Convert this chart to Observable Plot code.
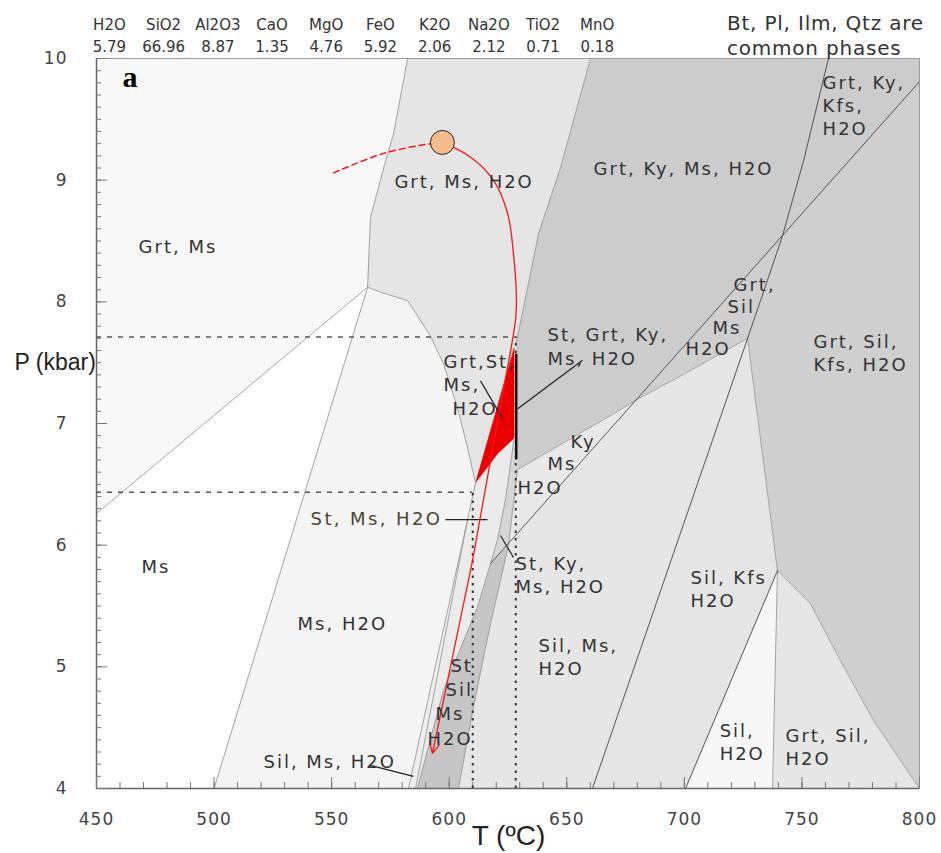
<!DOCTYPE html>
<html><head><meta charset="utf-8">
<script src="https://cdn.jsdelivr.net/npm/d3@7"></script>
<script src="https://cdn.jsdelivr.net/npm/@observablehq/plot@0.6"></script>
<style>
html,body{margin:0;padding:0;background:#fff;}
#chart{width:941px;height:853px;}
</style></head><body><div id="chart"></div>
<script>
// ---- bulk composition (wt%) ----
const oxides = ["H2O","SiO2","Al2O3","CaO","MgO","FeO","K2O","Na2O","TiO2","MnO"];
const oxideValues = ["5.79","66.96","8.87","1.35","4.76","5.92","2.06","2.12","0.71","0.18"];

// ---- axis ticks ----
const xTicks = [450,500,550,600,650,700,750,800];
const yTicks = [4,5,6,7,8,9,10];
const xMinorTicks = d3.range(450, 801, 10);
const yMinorTicks = d3.range(40, 101).map(v => v / 10);

// ---- phase-field polygons [T (°C), P (kbar)] ----
const fields = [
  {name:"Grt, Ms", pts:[[450,10],[582.3,10],[576.3,9.38],[572.1,9.10],[566.5,8.69],[565.3,8.12],[450,6.26]]},
  {name:"Ms", pts:[[450,6.26],[565.3,8.12],[500,4],[450,4]]},
  {name:"Ms, H2O", pts:[[565.3,8.12],[570.8,8.08],[582.3,8.01],[592.0,7.72],[597.6,7.49],[603.5,7.13],[607.8,6.80],[611.2,6.51],[582.7,4.0],[500,4]]},
  {name:"Grt, Ms, H2O", pts:[[582.3,10],[660.1,10],[647.3,9.10],[638.0,8.56],[632.0,7.99],[629.0,7.71],[628.4,7.65],[627.6,7.62],[611.2,6.51],[607.8,6.80],[603.5,7.13],[597.6,7.49],[592.0,7.72],[582.3,8.01],[570.8,8.08],[565.3,8.12],[566.5,8.69],[572.1,9.10],[576.3,9.38]]},
  {name:"Grt, Ky, Ms, H2O", pts:[[660.1,10],[800,10],[800,9.81],[680.1,7.20],[669.9,7.08],[650.3,6.86],[629.0,6.62],[628.4,7.65],[629.0,7.71],[632.0,7.99],[638.0,8.56],[647.3,9.10]]},
  {name:"Grt, Sil, Kfs, H2O", pts:[[680.1,7.20],[800,9.81],[800,4.0],[780.4,4.56],[766.4,5.05],[753.6,5.52],[739.6,5.79],[726.9,7.70],[698.4,7.39]]},
  {name:"Ky, Ms, H2O", pts:[[629.0,6.62],[650.3,6.86],[669.9,7.08],[680.1,7.20],[625.2,6.0],[626.9,6.28]]},
  {name:"Sil, Ms, H2O", pts:[[625.2,6.0],[680.1,7.20],[698.4,7.39],[726.9,7.70],[660.9,4.0],[603.9,4.0],[610.3,4.67],[617.6,5.36],[621.8,5.71]]},
  {name:"Sil, Kfs, H2O", pts:[[726.9,7.70],[739.6,5.79],[700.5,4.0],[660.9,4.0]]},
  {name:"Sil, H2O", pts:[[739.6,5.79],[737.5,4.0],[700.5,4.0]]},
  {name:"Grt, Sil, H2O", pts:[[739.6,5.79],[753.6,5.52],[766.4,5.05],[780.4,4.56],[800,4.0],[737.5,4.0]]},
  {name:"St, Ms, H2O", pts:[[611.2,6.51],[621.0,6.76],[627.6,6.88],[623.9,6.37],[620.5,6.04],[617.6,5.85],[612.0,5.49],[597.6,4.81],[586.5,4.0],[585.7,4.0],[607.7,6.20]]},
  {name:"Sil, Ms, H2O low", pts:[[607.7,6.20],[585.7,4.0],[582.7,4.0]]},
  {name:"St, Ky, Ms, H2O", pts:[[627.6,6.88],[629.0,6.62],[626.9,6.28],[625.2,6.0],[617.6,5.85],[620.5,6.04],[623.9,6.37]]},
  {name:"St, Sil, Ms, H2O", pts:[[617.6,5.85],[625.2,6.0],[621.8,5.71],[617.6,5.36],[610.3,4.67],[603.9,4.0],[586.5,4.0],[597.6,4.81],[612.0,5.49]]},
  {name:"Grt, St, Ms, H2O", pts:[[611.2,6.51],[627.6,7.62],[627.6,6.88],[621.0,6.76]]}
];

// ---- field boundaries ----
const lightBoundaries = [
  [[582.3,10],[576.3,9.38],[572.1,9.10],[566.5,8.69],[565.3,8.12]],
  [[565.3,8.12],[450,6.26]],
  [[565.3,8.12],[500,4]],
  [[565.3,8.12],[570.8,8.08],[582.3,8.01],[592.0,7.72],[597.6,7.49],[603.5,7.13],[607.8,6.80],[611.2,6.51]],
  [[611.2,6.51],[582.7,4.0]],
  [[607.7,6.20],[585.7,4.0]],
  [[627.6,6.88],[623.9,6.37],[620.5,6.04],[617.6,5.85],[612.0,5.49],[597.6,4.81],[586.5,4.0]],
  [[629.0,6.62],[626.9,6.28],[625.2,6.0],[621.8,5.71],[617.6,5.36],[610.3,4.67],[603.9,4.0]],
  [[660.1,10],[647.3,9.10],[638.0,8.56],[632.0,7.99],[629.0,7.71],[628.4,7.65]],
  [[629.0,6.62],[650.3,6.86],[669.9,7.08],[680.1,7.20],[698.4,7.39],[726.9,7.70]],
  [[726.9,7.70],[739.6,5.79]],
  [[739.6,5.79],[753.6,5.52],[766.4,5.05],[780.4,4.56],[800,4.0]],
  [[739.6,5.79],[737.5,4.0]]
];
const darkBoundaries = [
  [[761.3,10],[750.7,9.16],[741.7,8.54],[732.4,8.01],[726.9,7.70]],
  [[617.6,5.85],[800,9.81]],
  [[726.9,7.70],[660.9,4.0]],
  [[739.6,5.79],[700.5,4.0]]
];

// ---- estimated peak / retrograde conditions ----
const peakEstimates = [{T:628.3, P:7.71},{T:610, P:6.435}];
const stGrtKyLine = [{T:628.5, P1:6.70, P2:7.57}];

// ---- label leaders [T1,P1,T2,P2] ----
const leaders = [
  [613.3,7.35,622.7,7.04],
  [656.7,7.52,629.0,7.12],
  [598.4,6.21,616.3,6.21],
  [621.8,6.08,627.3,5.90],
  [566.5,4.19,584.8,4.10]
];

// ---- P-T path ----
const pathPrograde = [[550.8,9.06],[572.1,9.22],[592.0,9.30],[597.1,9.31]];
const pathRetrograde = [[597.1,9.31],[609.0,9.19],[618.8,9.0],[624.8,8.73],[627.3,8.40],[628.6,8.01],[628.2,7.85],[619.8,6.94],[609.9,5.87]];
const pathArrow = [[609.9,5.87,592.9,4.29]];
const peakPoint = [[597.1,9.31]];

// ---- labels ----
const phaseLabels = [
  {text:"Grt, Ms", T:467.9, P:8.46},
  {text:"Ms", T:469.1, P:5.83},
  {text:"Ms, H2O", T:535.5, P:5.36},
  {text:"Grt, Ms, H2O", T:576.7, P:9.0},
  {text:"Grt, Ky, Ms, H2O", T:661.4, P:9.10},
  {text:"Grt, Ky,\nKfs,\nH2O", T:758.8, P:9.62},
  {text:"Grt,", T:720.9, P:8.15},
  {text:"Sil", T:718.4, P:7.97},
  {text:"Ms", T:712.0, P:7.80},
  {text:"H2O", T:700.5, P:7.62},
  {text:"St, Grt, Ky,\nMs, H2O", T:641.8, P:7.64},
  {text:"Grt,St,", T:597.6, P:7.52},
  {text:"Ms,", T:597.6, P:7.33},
  {text:"H2O", T:601.4, P:7.13},
  {text:"Grt, Sil,\nKfs, H2O", T:754.9, P:7.59},
  {text:"Ky", T:651.6, P:6.86},
  {text:"Ms", T:641.8, P:6.68},
  {text:"H2O", T:629.0, P:6.48},
  {text:"St, Ky,\nMs, H2O", T:628.2, P:5.76},
  {text:"Sil, Kfs\nH2O", T:702.6, P:5.65},
  {text:"Sil, Ms,\nH2O", T:638.0, P:5.09},
  {text:"St", T:600.5, P:5.02},
  {text:"Sil", T:598.4, P:4.82},
  {text:"Ms", T:594.2, P:4.62},
  {text:"H2O", T:590.8, P:4.42},
  {text:"Sil, Ms, H2O", T:521.0, P:4.23},
  {text:"Sil,\nH2O", T:715.0, P:4.39},
  {text:"Grt, Sil,\nH2O", T:743.0, P:4.35}
];
const stMsLabel = [{text:"St, Ms, H2O", T:597.1, P:6.21}];
const commonPhases = ["Bt, Pl, Ilm, Qtz are\ncommon phases"];

// ---- styles ----
const fieldFill = {
  "Grt, Ms":"#f8f8f8", "Ms":"#ffffff", "Ms, H2O":"#f4f4f4", "Grt, Ms, H2O":"#e5e5e5",
  "Grt, Ky, Ms, H2O":"#cccccc", "Grt, Sil, Kfs, H2O":"#cfcfcf", "Ky, Ms, H2O":"#e8e8e8",
  "Sil, Ms, H2O":"#e6e6e6", "Sil, Kfs, H2O":"#e5e5e5", "Sil, H2O":"#f7f7f7",
  "Grt, Sil, H2O":"#e6e6e6", "St, Ms, H2O":"#ebebeb", "Sil, Ms, H2O low":"#eeeeee",
  "St, Ky, Ms, H2O":"#d6d6d6", "St, Sil, Ms, H2O":"#c6c6c6", "Grt, St, Ms, H2O":"#ea0000"
};
const RED = "#f01818";
const px = d => d[0], py = d => d[1];

// letter-spacing helper through Plot's render hook
const spaced = (ls) => (index, scales, values, dims, ctx, next) => {
  const g = next(index, scales, values, dims, ctx);
  if (g) {
    g.style.letterSpacing = ls;
    g.setAttribute("letter-spacing", ls);
    g.querySelectorAll("text").forEach(t => { t.style.letterSpacing = ls; t.setAttribute("letter-spacing", ls); });
  }
  return g;
};

const chart = Plot.plot({
  width: 941, height: 853,
  marginLeft: 96, marginRight: 22, marginTop: 58, marginBottom: 65,
  x: {domain: [450, 800], label: null},
  y: {domain: [4, 10], label: null},
  style: {fontFamily: "'DejaVu Sans', sans-serif", fontSize: "17px", color: "#333", background: "#fff"},
  marks: [
    ...fields.map(f => Plot.line(f.pts, {x: px, y: py, fill: fieldFill[f.name], stroke: fieldFill[f.name], strokeWidth: 0.6})),
    ...lightBoundaries.map(b => Plot.line(b, {x: px, y: py, stroke: "#9a9a9a", strokeWidth: 0.9})),
    ...darkBoundaries.map(b => Plot.line(b, {x: px, y: py, stroke: "#444", strokeWidth: 0.9})),
    Plot.frame({stroke: "#9a9a9a"}),
    Plot.ruleX([450], {stroke: "#666", strokeWidth: 1.5}),
    Plot.ruleY([4], {stroke: "#666", strokeWidth: 1.5}),
    Plot.tickX(xMinorTicks, {x: d => d, insetTop: 724, stroke: "#777"}),
    Plot.tickX(xTicks, {x: d => d, insetTop: 719, stroke: "#777"}),
    Plot.tickY(yMinorTicks, {y: d => d, insetRight: 818, stroke: "#777"}),
    Plot.tickY(yTicks, {y: d => d, insetRight: 812, stroke: "#777"}),
    Plot.ruleY(peakEstimates, {y: "P", x1: 450, x2: "T", stroke: "#555", strokeWidth: 1.5, strokeDasharray: "5,6"}),
    Plot.ruleX(peakEstimates, {x: "T", y1: 4, y2: "P", stroke: "#333", strokeWidth: 2, strokeDasharray: "2.5,5"}),
    Plot.ruleX(stGrtKyLine, {x: "T", y1: "P1", y2: "P2", stroke: "#111", strokeWidth: 2.5}),
    Plot.link(leaders, {x1: d => d[0], y1: d => d[1], x2: d => d[2], y2: d => d[3], stroke: "#222", strokeWidth: 1.2}),
    Plot.line(pathPrograde, {x: px, y: py, stroke: RED, strokeWidth: 1.5, strokeDasharray: "6,4", curve: "catmull-rom"}),
    Plot.line(pathRetrograde, {x: px, y: py, stroke: RED, strokeWidth: 1.3, curve: "catmull-rom"}),
    Plot.arrow(pathArrow, {x1: d => d[0], y1: d => d[1], x2: d => d[2], y2: d => d[3], stroke: RED, strokeWidth: 1.3, headLength: 12, headAngle: 55}),
    Plot.dot(peakPoint, {x: px, y: py, r: 12, fill: "#f7bc8c", stroke: "#222", strokeWidth: 1}),
    Plot.text(phaseLabels, {x: "T", y: "P", text: "text", textAnchor: "start", fontSize: 18, lineHeight: 1.28, fill: "#333", render: spaced("2px")}),
    Plot.text(stMsLabel, {x: "T", y: "P", text: "text", textAnchor: "end", fontSize: 18, fill: "#4b4630", render: spaced("2.4px")}),
    Plot.text(["a"], {text: d => d, x: 464.25, y: 9.845, fontFamily: "'Liberation Serif', serif", fontWeight: "bold", fontSize: 30, fill: "#000"}),
    Plot.text(oxides, {text: d => d, x: (d, i) => 455.5 + 23.05 * i, frameAnchor: "top", lineAnchor: "middle", dy: -33, fontSize: 15, fill: "#333"}),
    Plot.text(oxideValues, {text: d => d, x: (d, i) => 455.5 + 23.05 * i, frameAnchor: "top", lineAnchor: "middle", dy: -11, fontSize: 15, fill: "#333"}),
    Plot.text(commonPhases, {text: d => d, x: 718.1, frameAnchor: "top", lineAnchor: "middle", dy: -24, textAnchor: "start", fontSize: 20, lineHeight: 1.25, fill: "#333", render: spaced("0.8px")}),
    Plot.text(["T (ºC)"], {text: d => d, x: 625.2, frameAnchor: "bottom", lineAnchor: "middle", dy: 48, fontFamily: "'Liberation Sans', sans-serif", fontSize: 28, fill: "#222"}),
    Plot.text(["P (kbar)"], {text: d => d, y: 7.50, frameAnchor: "left", lineAnchor: "middle", dx: -82, textAnchor: "start", fontFamily: "'Liberation Sans', sans-serif", fontSize: 23, fill: "#222"}),
    Plot.axisX(xTicks, {tickSize: 0, tickPadding: 24, fontSize: 17, color: "#444", label: null, tickFormat: d => String(d)}),
    Plot.axisY(yTicks, {tickSize: 0, tickPadding: 29, fontSize: 17, color: "#444", label: null, tickFormat: d => String(d)})
  ]
});

// fallback letter-spacing for the tick labels
chart.querySelectorAll('g[aria-label$="tick label"] text').forEach(t => { t.style.letterSpacing = "1px"; });
document.getElementById("chart").appendChild(chart);
</script>
</body></html>
